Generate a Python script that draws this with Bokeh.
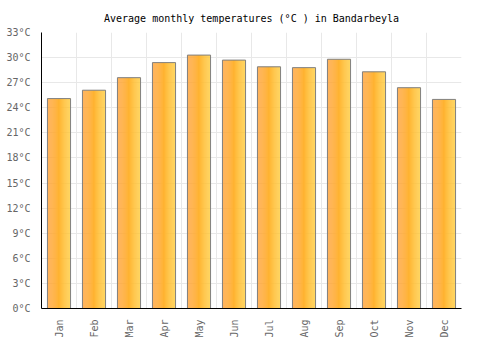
from bokeh.plotting import figure
from bokeh.models import FixedTicker, PrintfTickFormatter, Range1d
from bokeh.embed import file_html
from bokeh.resources import INLINE
import math

months = ["Jan", "Feb", "Mar", "Apr", "May", "Jun", "Jul", "Aug", "Sep", "Oct", "Nov", "Dec"]
temps = [25.1, 26.1, 27.6, 29.4, 30.3, 29.7, 28.9, 28.8, 29.8, 28.3, 26.4, 25.0]
y_ticks = list(range(0, 34, 3))

FONT = "DejaVu Sans Mono"

p = figure(width=500, height=350, output_backend="svg", toolbar_location=None,
           x_range=Range1d(0, 12), y_range=Range1d(0, 33),
           min_border_left=41, min_border_right=39, min_border_top=32, min_border_bottom=42,
           title="Average monthly temperatures (°C ) in Bandarbeyla")
p.title.text_font = FONT
p.title.text_font_size = "10px"
p.title.text_font_style = "normal"
p.title.align = "center"
p.title.text_color = "#000000"
p.title.standoff = 17
p.outline_line_color = None

xs = [i + 0.5 for i in range(len(months))]
bw = 0.66
N = 24
c0 = (255, 157, 46)
c1 = (255, 201, 51)
for k in range(N):
    t = k / (N - 1)
    col = "#%02x%02x%02x" % tuple(int(round(a + (b - a) * t)) for a, b in zip(c0, c1))
    off = -bw / 2 + (k + 0.5) * bw / N
    p.vbar(x=[x + off for x in xs], top=temps, bottom=0, width=bw / N * 1.05,
           fill_color=col, line_color=None)
p.vbar(x=xs, top=temps, bottom=0, width=bw, fill_color=None,
       line_color="#808080", line_width=1)

p.xaxis.ticker = FixedTicker(ticks=xs)
p.xaxis.major_label_overrides = {x: m for x, m in zip(xs, months)}
p.xaxis.major_label_orientation = math.pi / 2
p.yaxis.ticker = FixedTicker(ticks=y_ticks)
p.yaxis.formatter = PrintfTickFormatter(format="%d°C")
for ax in (p.xaxis[0], p.yaxis[0]):
    ax.major_tick_line_color = None
    ax.minor_tick_line_color = None
    ax.axis_line_color = "#000000"
    ax.axis_line_width = 1
    ax.major_label_text_font = FONT
    ax.major_label_text_font_size = "10px"
    ax.major_label_text_color = "#666666"
    ax.major_label_standoff = 5

p.xgrid.ticker = FixedTicker(ticks=list(range(0, 13)))
p.ygrid.ticker = FixedTicker(ticks=y_ticks)
p.xgrid.grid_line_color = "#e8e8e8"
p.ygrid.grid_line_color = "#e8e8e8"

open("out.html", "w").write(file_html(p, INLINE))
